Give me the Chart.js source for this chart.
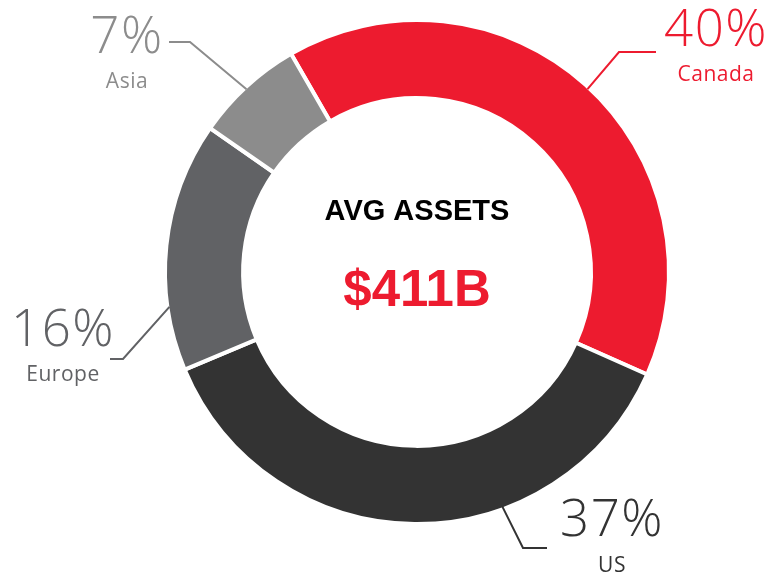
<!DOCTYPE html>
<html>
<head>
<meta charset="utf-8">
<title>Average assets by region</title>
<script src="https://cdn.jsdelivr.net/npm/chart.js@4/dist/chart.umd.min.js"></script>
<style>
  html, body { margin: 0; padding: 0; background: #fff; }
  #wrap { position: relative; width: 780px; height: 577px; }
</style>
</head>
<body>
<div id="wrap"><canvas id="assetsChart" width="780" height="577"></canvas></div>
<script>
const regions = ['Canada', 'US', 'Europe', 'Asia'];
const shares = [40, 37, 16, 7];
const regionColors = ['#ED1B2F', '#333333', '#616265', '#8C8C8C'];

const centerTitle = 'AVG ASSETS';
const centerValue = '$411B';

// callout layout: where the leader leaves the ring (degrees, 0 = top, clockwise),
// the elbow, the end of the line, and where the text sits
const callouts = {
  Canada: { angle: 43,  elbow: [619, 52],  end: [656, 52],  text: [716, 31], labelY: 75 },
  US:     { angle: 160, elbow: [523, 548], end: [547, 548], text: [612, 521], labelY: 566 },
  Europe: { angle: 262, elbow: [123, 359], end: [110, 359], text: [63, 331], labelY: 375 },
  Asia:   { angle: 317, elbow: [190, 42],  end: [169, 42],  text: [127, 38], labelY: 82 }
};

const calloutPlugin = {
  id: 'callouts',
  afterDatasetsDraw(chart) {
    const ctx = chart.ctx;
    const arcs = chart.getDatasetMeta(0).data;
    ctx.save();
    arcs.forEach((arc, i) => {
      const c = callouts[regions[i]];
      const color = regionColors[i];
      const a = (c.angle - 90) * Math.PI / 180;
      const r = arc.outerRadius - 2;
      const sx = arc.x + Math.cos(a) * r;
      const sy = arc.y + Math.sin(a) * r;

      ctx.strokeStyle = color;
      ctx.lineWidth = 2;
      ctx.beginPath();
      ctx.moveTo(sx, sy);
      ctx.lineTo(c.elbow[0], c.elbow[1]);
      ctx.lineTo(c.end[0], c.end[1]);
      ctx.stroke();

      ctx.fillStyle = color;
      ctx.textAlign = 'center';
      ctx.textBaseline = 'middle';
      ctx.letterSpacing = '1.5px';
      ctx.font = '300 51px "Open Sans", sans-serif';
      ctx.fillText(shares[i] + '%', c.text[0], c.text[1]);
      ctx.letterSpacing = '0.5px';
      ctx.font = '400 21px "Open Sans", sans-serif';
      ctx.fillText(regions[i], c.text[0], c.labelY);
      ctx.letterSpacing = '0px';
    });

    // centre text
    const cx = arcs[0].x;
    const cy = arcs[0].y;
    ctx.textAlign = 'center';
    ctx.textBaseline = 'middle';
    ctx.fillStyle = '#000';
    ctx.font = 'bold 29px "Liberation Sans", Arial, sans-serif';
    ctx.fillText(centerTitle, cx, cy - 60);
    ctx.fillStyle = regionColors[0];
    ctx.font = 'bold 51px "Liberation Sans", Arial, sans-serif';
    ctx.fillText(centerValue, cx, cy + 20);
    ctx.restore();
  }
};

new Chart(document.getElementById('assetsChart'), {
  type: 'doughnut',
  data: {
    labels: regions,
    datasets: [{
      data: shares,
      backgroundColor: regionColors,
      borderColor: '#ffffff',
      borderWidth: 4,
      hoverOffset: 0
    }]
  },
  options: {
    responsive: false,
    animation: false,
    rotation: -30,
    cutout: '69%',
    layout: { padding: { left: 163, right: 109, top: 18, bottom: 51 } },
    plugins: {
      legend: { display: false },
      tooltip: { enabled: false }
    }
  },
  plugins: [calloutPlugin]
});
</script>
</body>
</html>
